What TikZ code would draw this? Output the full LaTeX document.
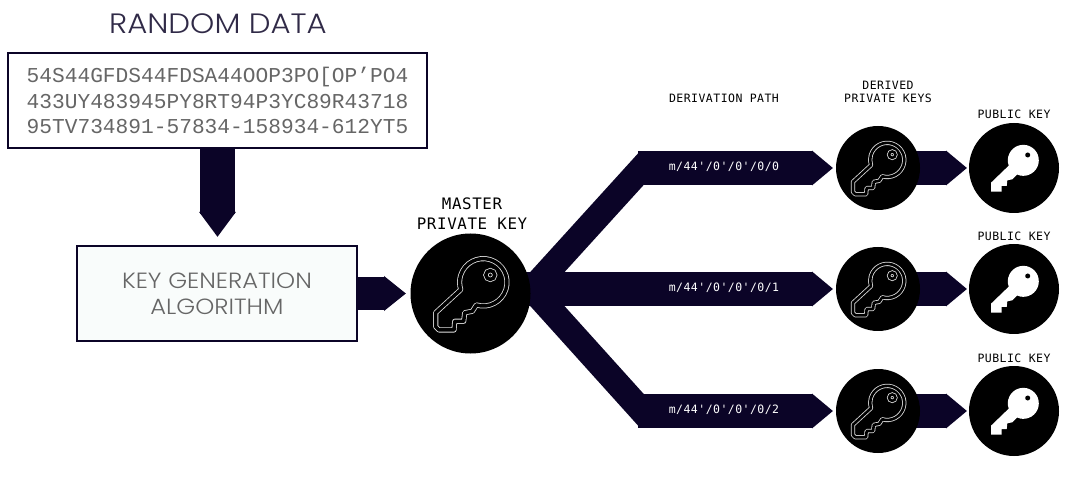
\documentclass[tikz,border=0pt]{standalone}
\usepackage{fontspec}
\usetikzlibrary{arrows.meta, backgrounds}
\newfontfamily\titlefont[FakeStretch=1.1]{Poppins Light}
\newfontfamily\datafont{Liberation Mono}
\newfontfamily\labelfont[LetterSpace=4]{DejaVu Sans Mono}
\definecolor{ink}{HTML}{0B0427}
\definecolor{greytext}{HTML}{666666}
\definecolor{keyline}{HTML}{E0E0E0}
\definecolor{genfill}{HTML}{F9FCFB}
\tikzset{
  keyoutline/.pic={
    \draw[draw=keyline, line width=.8pt, double=black, double distance=#1, line join=round]
      (5.87,-11.46) arc[start angle=253, end angle=558, radius=23.7]
      -- (-34.8,-19.2) -- (-34.8,-33.2) -- (-31.5,-36.5) -- (-16.5,-36.5)
      -- (-15.8,-27.8) -- (-6.8,-27.8) -- (-5.8,-19.2) -- (1.8,-17.8) -- cycle;
    \draw[draw=keyline, line width=.8pt, double=black, double distance=#1] (19.8,18.5) circle (4.4);
  },
  keysolid/.pic={
    \fill[white] (3,-6.5) arc[start angle=246, end angle=560, radius=15.5]
      -- (-23,-14.7) -- (-23,-23.7) -- (-12.3,-23.7) -- (-12.3,-18) -- (-7.3,-18)
      -- (-6.7,-12.3) -- (-1.7,-11.3) -- cycle;
    \fill[black] (13.7,13) circle (2.5);
  }
}

\begin{document}
\begin{tikzpicture}[x=1pt, y=1pt]
    \tikzstyle{databox}=[rectangle, draw=ink, line width=2.5pt, fill=white, align=center, inner sep=0pt]
    \tikzstyle{disc}=[circle, fill=black, inner sep=0pt, outer sep=0pt]
    \tikzstyle{heading}=[align=center, inner sep=0pt, font=\labelfont\fontsize{15.8}{20}\selectfont]
    \tikzstyle{smallhead}=[align=center, inner sep=0pt, font=\labelfont\fontsize{11.5}{13}\selectfont]
    \tikzstyle{pathlabel}=[smallhead, text=white]
    \tikzstyle{block}=[draw=ink, line width=33.5pt, -{Triangle[length=21pt, width=33.5pt]}]
    \tikzstyle{branch}=[draw=ink, line width=25.4pt]

    \useasboundingbox (0,0) rectangle (1087,477);

    \node[inner sep=0pt, text=ink!85, font=\titlefont\fontsize{28}{30}\selectfont] (title) at (218,453) {RANDOM DATA};
    \node[databox, minimum width=419pt, minimum height=95pt, text=greytext, font=\datafont\fontsize{21.2}{25.5}\selectfont] (data) at (217.5,376.5)
      {54S44GFDS44FDSA44OOP3PO[OP’PO4\\433UY483945PY8RT94P3YC89R43718\\95TV734891-57834-158934-612YT5};
    \node[databox, minimum width=280pt, minimum height=95pt, text=greytext, fill=genfill, font=\titlefont\fontsize{22}{26}\selectfont] (gen) at (217,183.5)
      {KEY GENERATION\\ALGORITHM};

    \node[disc, minimum size=120pt] (master) at (470.5,183.5) {};
    \node[disc, minimum size=84pt] (keyA) at (878,309) {};
    \node[disc, minimum size=84pt] (keyB) at (878,188) {};
    \node[disc, minimum size=84pt] (keyC) at (878,66) {};
    \node[disc, minimum size=90pt] (pubA) at (1014,309) {};
    \node[disc, minimum size=90pt] (pubB) at (1014,188) {};
    \node[disc, minimum size=90pt] (pubC) at (1014,66) {};

    \coordinate (hub) at (532,188);
    \coordinate (hubstart) at (524,188);
    \coordinate (elbowA) at (647.4,315);
    \coordinate (elbowC) at (647.4,60);
    \coordinate (startA) at (638,309);
    \coordinate (startC) at (638,66);
    \coordinate (genfoot) at (217.5,231);

    % connectors sit behind the boxes and discs
    \begin{scope}[on background layer]
    \draw[block, line width=35pt, -{Triangle[length=25pt, width=35pt]}, shorten >=9pt] (data) -- (genfoot);
    \draw[block, -{Triangle[length=22pt, width=33.5pt]}, shorten >=4.5pt] (gen) -- (master);
    \draw[branch] (hub) -- (elbowA);
    \draw[branch] (hub) -- (elbowC);
    \draw[block, shorten >=3pt] (startA) -- (keyA);
    \draw[block, shorten >=3pt] (hubstart) -- (keyB);
    \draw[block, shorten >=3pt] (startC) -- (keyC);
    \draw[block, shorten >=2pt] (keyA.center) -- (pubA);
    \draw[block, shorten >=2pt] (keyB.center) -- (pubB);
    \draw[block, shorten >=2pt] (keyC.center) -- (pubC);
    \end{scope}

    \pic at (master) {keyoutline=3.5pt};
    \pic[scale=.72] at (keyA) {keyoutline=2.6pt};
    \pic[scale=.72] at (keyB) {keyoutline=2.6pt};
    \pic[scale=.72] at (keyC) {keyoutline=2.6pt};
    \pic at (pubA) {keysolid};
    \pic at (pubB) {keysolid};
    \pic at (pubC) {keysolid};

    \node[heading] (masterlabel) at (472,263) {MASTER\\PRIVATE KEY};
    \node[smallhead] (pathhead) at (724,379) {DERIVATION PATH};
    \node[smallhead] (derivedhead) at (888,385.5) {DERIVED\\PRIVATE KEYS};
    \node[smallhead] (pubheadA) at (1014,363) {PUBLIC KEY};
    \node[smallhead] (pubheadB) at (1014,241) {PUBLIC KEY};
    \node[smallhead] (pubheadC) at (1014,119) {PUBLIC KEY};
    \node[pathlabel] (pathA) at (724,310) {m/44'/0'/0'/0/0};
    \node[pathlabel] (pathB) at (724,189) {m/44'/0'/0'/0/1};
    \node[pathlabel] (pathC) at (724,67) {m/44'/0'/0'/0/2};
\end{tikzpicture}
\end{document}
